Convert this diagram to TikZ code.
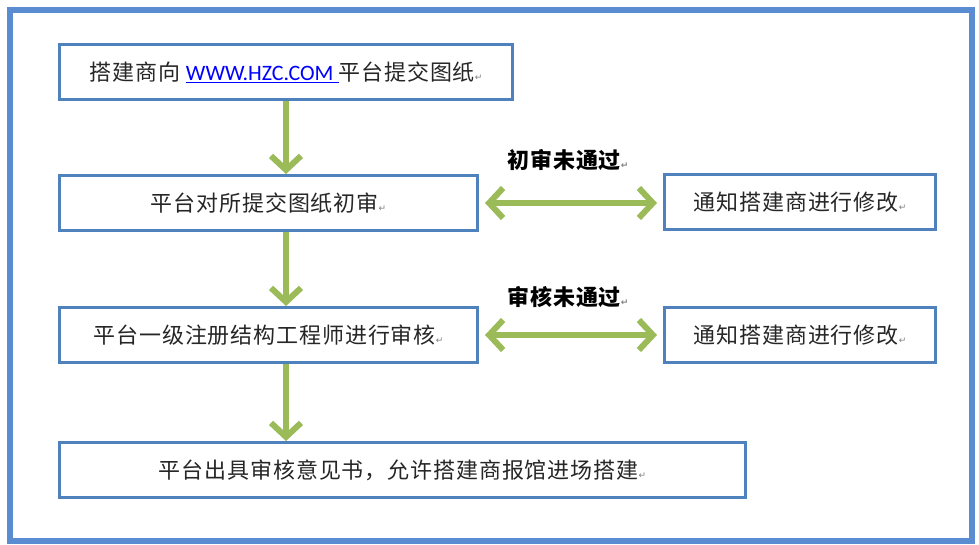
\documentclass[tikz,border=0pt]{standalone}
\usepackage{fontspec}
\setmainfont{Noto Sans CJK SC}
\newfontfamily\urlfont{Carlito}
\newfontfamily\symfont{DejaVu Sans}
\usetikzlibrary{arrows.meta,positioning}
\definecolor{boxblue}{RGB}{79,129,189}
\definecolor{frameblue}{RGB}{90,140,210}
\definecolor{arrowgreen}{RGB}{155,187,89}
\newcommand{\pmark}{{\symfont\fontsize{9}{9}\selectfont\textcolor{gray}{↵}}}

\begin{document}
\begin{tikzpicture}[x=1pt,y=-1pt]
		\tikzstyle{stepbox}=[draw=boxblue, line width=3pt, anchor=north west, minimum height=55pt, inner sep=0pt, text=black!85, font=\fontsize{22}{22}\selectfont\addfontfeature{LetterSpace=4}];
		\tikzstyle{faillabel}=[inner sep=0pt, text=black, font=\fontsize{22}{22}\selectfont\bfseries\addfontfeature{LetterSpace=4}];
		\tikzstyle{flow}=[draw=arrowgreen, line width=6pt, -{Straight Barb[length=14pt,width=30pt]}];
		\tikzstyle{backflow}=[flow, {Straight Barb[length=14pt,width=30pt]}-{Straight Barb[length=14pt,width=30pt]}, shorten <=6pt, shorten >=6pt];

		\useasboundingbox (0,0) rectangle (979,544);
		\draw[frameblue, line width=6pt] (10,10) rectangle (972,541);

		\node[stepbox, minimum width=453pt] (submit) at (58,43)
			{搭建商向 {\urlfont\textcolor{blue}{\underline{WWW.HZC.COM }}}平台提交图纸\pmark};
		\node[stepbox, minimum width=418pt] (precheck) at (58,174) {平台对所提交图纸初审\pmark};
		\node[stepbox, minimum width=418pt] (review) at (58,306) {平台一级注册结构工程师进行审核\pmark};
		\node[stepbox, minimum width=686pt] (approve) at (58,441) {平台出具审核意见书，允许搭建商报馆进场搭建\pmark};

		\node[stepbox, minimum width=271pt] (notifyone) at (663,173) {通知搭建商进行修改\pmark};
		\node[stepbox, minimum width=271pt] (notifytwo) at (663,306) {通知搭建商进行修改\pmark};

		\node[faillabel] (failone) at (568,160) {初审未通过\pmark};
		\node[faillabel] (failtwo) at (568,297) {审核未通过\pmark};

		\draw[flow] (submit.south) -- (submit.south |- precheck.north);
		\draw[flow] (submit.south |- precheck.south) -- (submit.south |- review.north);
		\draw[flow] (submit.south |- review.south) -- (submit.south |- approve.north);

		\draw[backflow] (precheck.east) -- (precheck.east -| notifyone.west);
		\draw[backflow] (review.east) -- (review.east -| notifytwo.west);
	\end{tikzpicture}
\end{document}
